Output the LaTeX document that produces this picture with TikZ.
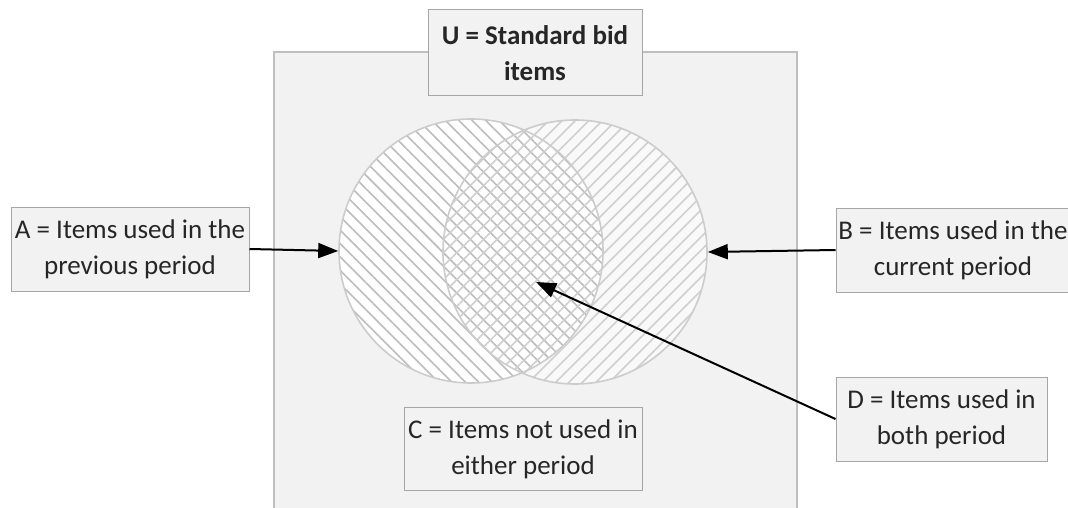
\documentclass[tikz,border=0pt]{standalone}
\usepackage{fontspec}
\setmainfont{Carlito}
\usetikzlibrary{patterns.meta,arrows.meta}
\definecolor{bgU}{HTML}{F2F2F2}
\definecolor{uline}{HTML}{BFBFBF}
\definecolor{boxfill}{HTML}{F2F2F2}
\definecolor{boxline}{HTML}{A6A6A6}
\definecolor{txt}{HTML}{262626}
\definecolor{hatchL}{HTML}{BDBDBD}
\definecolor{hatchR}{HTML}{CFCFCF}
\definecolor{cline}{HTML}{CCCCCC}
\definecolor{rfill}{HTML}{F9F9F9}
\begin{document}
\begin{tikzpicture}[x=1pt,y=-1pt,
  lbl/.style={draw=boxline, fill=boxfill, line width=1pt, inner sep=0pt, align=center,
    font=\fontsize{27}{36}\selectfont, text=txt},
  arr/.style={draw=black, line width=2pt, -{Triangle[length=20pt,width=15pt]}},
  ring/.style={circle, draw=cline, line width=1.6pt, minimum size=264pt, inner sep=0pt}]
\useasboundingbox (0,0) rectangle (1068,508);
\fill[white] (0,0) rectangle (1068,508);
% universe
\draw[draw=uline, fill=bgU, line width=2pt] (274,52) rectangle (797,530);
% circles
\coordinate (cl) at (471,251);
\coordinate (cr) at (575,252);
\fill[rfill] (cr) circle[radius=132pt];
\fill[white] (cl) circle[radius=132pt];
\begin{scope}
  \clip (cl) circle[radius=132pt];
  \fill[white] (cr) circle[radius=132pt];
\end{scope}
\fill[pattern={Lines[angle=-45,distance=9.5pt,line width=1.6pt]}, pattern color=hatchL] (cl) circle[radius=132pt];
\fill[pattern={Lines[angle=45,distance=9.5pt,line width=1.6pt]}, pattern color=hatchR] (cr) circle[radius=132pt];
\node[ring] (L) at (cl) {};
\node[ring] (R) at (cr) {};
\coordinate (Dtip) at (536,282);
% labels
\node[lbl, font=\fontsize{27}{36}\selectfont\bfseries, minimum width=214pt, minimum height=86pt] (nU) at (535,53) {U = Standard bid\\items};
\node[lbl, minimum width=238pt, minimum height=84pt] (nA) at (130,249) {A = Items used in the\\previous period};
\node[lbl, minimum width=234pt, minimum height=84pt] (nB) at (953,250) {B = Items used in the\\current period};
\node[lbl, minimum width=238pt, minimum height=83pt] (nC) at (523,449) {C = Items not used in\\either period};
\node[lbl, minimum width=211pt, minimum height=84pt] (nD) at (941.5,419) {D = Items used in\\both period};
% arrows
\draw[arr] (nA.east) -- (L.west);
\draw[arr] (nB.west) -- (R.east);
\draw[arr] (nD.west) -- (Dtip);
\end{tikzpicture}
\end{document}
